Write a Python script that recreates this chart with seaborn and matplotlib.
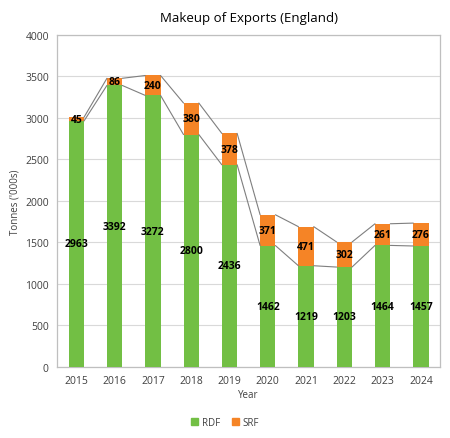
import matplotlib
matplotlib.use("Agg")
import matplotlib.pyplot as plt
import seaborn as sns
import pandas as pd
import numpy as np
from matplotlib.patches import Patch

years = ["2015", "2016", "2017", "2018", "2019", "2020", "2021", "2022", "2023", "2024"]
rdf = [2963, 3392, 3272, 2800, 2436, 1462, 1219, 1203, 1464, 1457]
srf = [45, 86, 240, 380, 378, 371, 471, 302, 261, 276]

green = "#72BF44"
orange = "#F58426"

sns.set_theme(style="white")
plt.rcParams['font.family'] = ['Open Sans', 'DejaVu Sans']

fig = plt.figure(figsize=(4.5, 4.39), dpi=100)
ax = fig.add_axes([0.127, 0.162, 0.851, 0.756])

df = pd.DataFrame({"Year": years, "RDF": rdf, "SRF": srf})
df["Total"] = df["RDF"] + df["SRF"]

w = 0.4
sns.barplot(data=df, x="Year", y="Total", color=orange, width=w, saturation=1, ax=ax,
            zorder=2, edgecolor="none", linewidth=0)
sns.barplot(data=df, x="Year", y="RDF", color=green, width=w, saturation=1, ax=ax,
            zorder=3, edgecolor="none", linewidth=0)

# series lines
for i in range(len(years) - 1):
    for col in ["RDF", "Total"]:
        ax.plot([i + w / 2, i + 1 - w / 2], [df[col][i], df[col][i + 1]],
                color="#7F7F7F", lw=0.8, zorder=4)

# data labels
for i in range(len(years)):
    ax.text(i, rdf[i] / 2, str(rdf[i]), ha="center", va="center",
            fontsize=7.5, fontweight="bold", color="black", zorder=5)
    ax.text(i, rdf[i] + srf[i] / 2, str(srf[i]), ha="center", va="center",
            fontsize=7.5, fontweight="bold", color="black", zorder=5)

ax.set_xlim(-0.5, 9.5)
ax.set_ylim(0, 4000)
ax.set_yticks(range(0, 4001, 500))
ax.yaxis.grid(True, color="#D9D9D9", lw=0.8, zorder=0)
ax.set_axisbelow(True)
for s in ax.spines.values():
    s.set_color("#BFBFBF")
    s.set_linewidth(0.9)
ax.tick_params(axis="both", labelsize=7.5, colors="#404040", length=0, pad=6)
ax.set_xlabel("Year", fontsize=7, color="#404040", labelpad=2)
ax.set_ylabel("Tonnes ('000s)", fontsize=7, color="#404040", labelpad=3)
ax.set_title("Makeup of Exports (England)", fontsize=9.5, color="black", pad=10)

handles = [Patch(color=green, label="RDF"), Patch(color=orange, label="SRF")]
fig.legend(handles=handles, loc="center", bbox_to_anchor=(0.5, 0.036), ncol=2,
           frameon=False, fontsize=7, handlelength=0.7, handleheight=0.7,
           handletextpad=0.4, columnspacing=1.2)
for t in fig.legends[0].get_texts():
    t.set_color("#404040")

fig.savefig("out.png", dpi=100)
